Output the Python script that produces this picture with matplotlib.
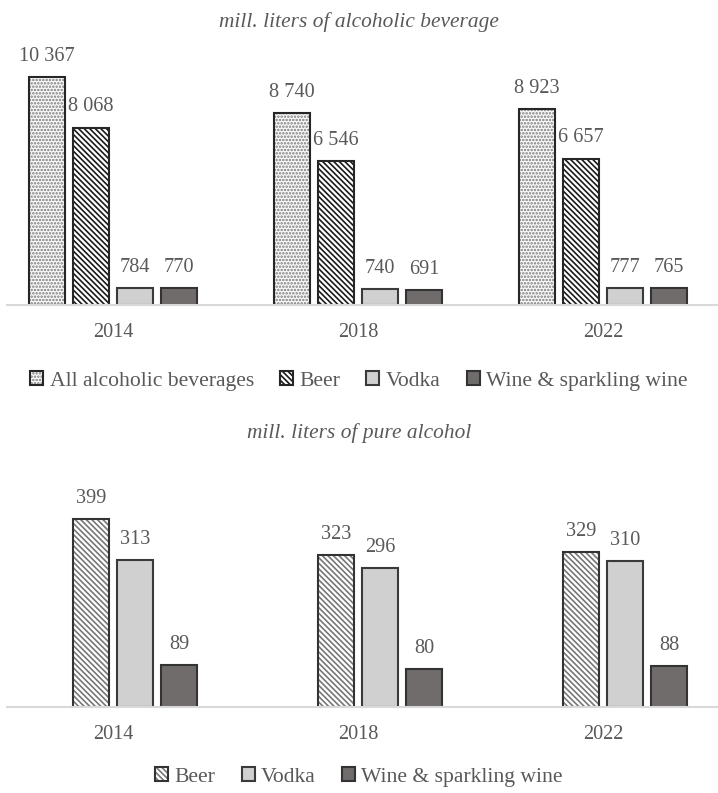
import numpy as np
import matplotlib
matplotlib.use("Agg")
import matplotlib.pyplot as plt
from matplotlib.legend_handler import HandlerTuple

# data
years = ["2014", "2018", "2022"]
series = ["All alcoholic beverages", "Beer", "Vodka", "Wine & sparkling wine"]

bev_all = [10367, 8740, 8923]
bev_beer = [8068, 6546, 6657]
bev_vodka = [784, 740, 777]
bev_wine = [770, 691, 765]

pure_beer = [399, 323, 329]
pure_vodka = [313, 296, 310]
pure_wine = [89, 80, 88]

TXT = "#595959"
plt.rcParams["font.family"] = ["Liberation Serif", "DejaVu Serif"]
plt.rcParams["hatch.linewidth"] = 1.2

W, H = 718, 793
fig = plt.figure(figsize=(W / 100, H / 100), dpi=100)

# fill colour, hatch, hatch colour, outline colour
styles = {
    "All alcoholic beverages": ("#fafafa", "." * 5, "#7a7a7a", "#262626"),
    "Beer": ("white", "\\" * 6, "#1a1a1a", "#262626"),
    "Beer2": ("white", "\\" * 6, "#777777", "#333333"),
    "Vodka": ("#d0d0d0", None, None, "#3a3a3a"),
    "Wine & sparkling wine": ("#6f6c6b", None, None, "#333333"),
}

offsets = [-0.27, -0.09, 0.09, 0.27]
bar_w = 0.147
x = np.arange(len(years))


def fmt(v):
    return f"{v:,}".replace(",", " ")


def draw_panel(ax, data, keys, slots, ymax):
    handles = []
    for vals, key, slot in zip(data, keys, slots):
        fc, hatch, hc, ec = styles[key]
        pos = x + offsets[slot]
        if hatch:
            b1 = ax.bar(pos, vals, bar_w, color=fc, hatch=hatch, edgecolor=hc, linewidth=0)
        else:
            b1 = ax.bar(pos, vals, bar_w, color=fc, linewidth=0)
        b2 = ax.bar(pos, vals, bar_w, fill=False, edgecolor=ec, linewidth=1.5)
        handles.append((b1.patches[0], b2.patches[0]))
        for p, v in zip(pos, vals):
            ax.annotate(fmt(v), (p, v), xytext=(0, 8), textcoords="offset points",
                        ha="center", va="bottom", fontsize=14.6, color=TXT)
    ax.set_xlim((7 - 113) / 245, (718 - 113) / 245)
    ax.set_ylim(0, ymax)
    for s in ["top", "right", "left"]:
        ax.spines[s].set_visible(False)
    ax.spines["bottom"].set_color("#d9d9d9")
    ax.spines["bottom"].set_linewidth(1.5)
    ax.set_yticks([])
    ax.set_xticks(x)
    ax.set_xticklabels(years, fontsize=14.6, color=TXT)
    ax.tick_params(axis="x", length=0, pad=13)
    return handles


leg_kw = dict(loc="center", frameon=False, fontsize=15.6, labelcolor=TXT,
              handlelength=0.6, handleheight=0.6, handletextpad=0.3,
              columnspacing=1.2, handler_map={tuple: HandlerTuple(ndivide=1)})

# top panel
ax1 = fig.add_axes([7 / W, 1 - 305 / H, 711 / W, 264 / H])
h1 = draw_panel(ax1, [bev_all, bev_beer, bev_vodka, bev_wine],
                ["All alcoholic beverages", "Beer", "Vodka", "Wine & sparkling wine"],
                [0, 1, 2, 3], 12000)
fig.text(0.5, 1 - 22 / H, "mill. liters of alcoholic beverage", ha="center", va="center",
         fontsize=15.4, style="italic", color=TXT)
fig.legend(h1, series, bbox_to_anchor=(0.5, 1 - 381 / H), ncol=4, **leg_kw)

# bottom panel
ax2 = fig.add_axes([7 / W, 1 - 707 / H, 711 / W, 235 / H])
h2 = draw_panel(ax2, [pure_beer, pure_vodka, pure_wine],
                ["Beer2", "Vodka", "Wine & sparkling wine"], [1, 2, 3], 500)
fig.text(0.5, 1 - 433 / H, "mill. liters of pure alcohol", ha="center", va="center",
         fontsize=15.4, style="italic", color=TXT)
fig.legend(h2, series[1:], bbox_to_anchor=(0.5, 1 - 777 / H), ncol=3, **leg_kw)

fig.savefig("out.png", dpi=100)
